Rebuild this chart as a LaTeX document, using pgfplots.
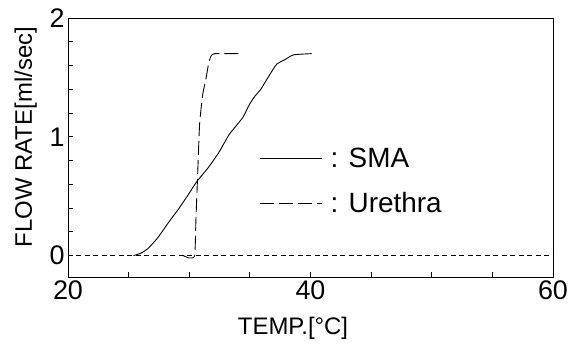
\documentclass[border=0pt]{standalone}
\usepackage{fontspec}
\setmainfont{Liberation Sans}
\usepackage{pgfplots}
\pgfplotsset{compat=1.18}
\begin{document}
\begin{tikzpicture}
\useasboundingbox (-68bp,-70bp) rectangle (507bp,277bp);
\begin{axis}[
  at={(0,0)}, anchor=south west,
  scale only axis, width=485bp, height=259bp,
  xmin=20, xmax=60, ymin=-0.18, ymax=2,
  xtick={20,40,60}, minor xtick={25,30,35,45,50,55},
  ytick={0,1,2}, minor ytick={0.2,0.4,0.6,0.8,1.2,1.4,1.6,1.8},
  tick align=inside, xtick pos=bottom, ytick pos=left,
  major tick length=5bp, minor tick length=5bp,
  axis line style={line width=1pt},
  every tick/.style={black, line width=0.8pt},
  /pgf/number format/assume math mode=true,
  tick label style={font=\fontsize{27}{27}\selectfont},
  xlabel={TEMP.[°C]}, ylabel={FLOW RATE[ml/sec]},
  label style={font=\fontsize{24}{24}\selectfont},
  xlabel style={at={(axis description cs:0.464,-0.2)}, anchor=center},
  ylabel style={at={(axis description cs:-0.087,0.54)}, anchor=center, rotate=0},
  legend cell align=left,
  legend style={draw=none, fill=none, at={(axis description cs:0.395,0.505)}, anchor=north west,
    font=\fontsize{28}{30}\selectfont, row sep=19bp, inner sep=0pt,
    /tikz/every odd column/.append style={column sep=6bp}},
  legend image code/.code={\draw[#1] (0bp,0bp) -- (62bp,0bp);},
]
\addplot[black, line width=0.9pt, dash pattern=on 5bp off 3.5bp, forget plot] coordinates {(20,0) (60,0)};
\addplot[black, line width=0.9pt, smooth, tension=0.3] coordinates {
(25.4,0) (26.0,0.02) (26.6,0.06) (27.4,0.15) (28.3,0.28) (29.1,0.39) (29.9,0.51)
(30.6,0.62) (31.6,0.745) (32.45,0.87) (33.3,1.02) (34.4,1.16) (34.95,1.27) (35.4,1.34)
(35.9,1.40) (36.5,1.50) (37.2,1.61) (37.9,1.65) (38.6,1.69) (40.1,1.70)};
\addlegendentry{: SMA}
\addplot[black, line width=0.9pt, dash pattern=on 14bp off 5bp, smooth, tension=0.3] coordinates {
(29.5,0) (30.0,-0.02) (30.45,0) (30.55,0.3) (30.7,0.7) (30.85,1.1) (31.1,1.35) (31.4,1.5)
(31.6,1.62) (31.8,1.68) (32.1,1.70) (34.1,1.70)};
\addlegendentry{: Urethra}
\end{axis}
\end{tikzpicture}
\end{document}
